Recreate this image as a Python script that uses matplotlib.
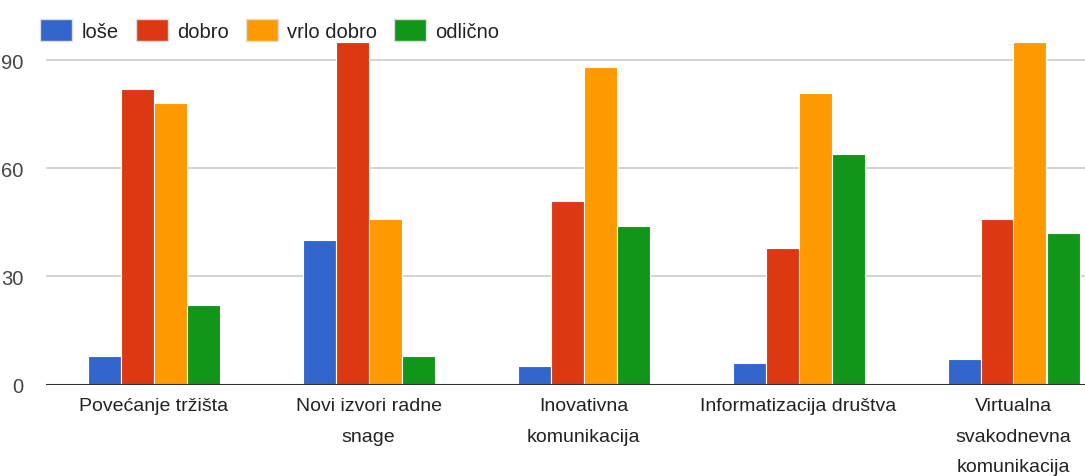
import matplotlib
matplotlib.use("Agg")
import matplotlib.pyplot as plt
from matplotlib.patches import Rectangle
import numpy as np

categories = ["Povećanje tržišta", "Novi izvori radne\nsnage", "Inovativna\nkomunikacija",
              "Informatizacija društva", "Virtualna\nsvakodnevna\nkomunikacija"]
series_names = ["loše", "dobro", "vrlo dobro", "odlično"]
lose = [8, 40, 5, 6, 7]
dobro = [82, 95, 51, 38, 46]
vrlo_dobro = [78, 46, 88, 81, 95]
odlicno = [22, 8, 44, 64, 42]
yticks = [0, 30, 60, 90]
colors = ["#3366cc", "#dc3912", "#ff9900", "#109618"]

plt.rcParams["font.family"] = ["Liberation Sans", "DejaVu Sans"]

W, H = 1085, 477
fig = plt.figure(figsize=(W / 100, H / 100), dpi=100)
left, right = 46, 1085
bottom_px, top_px = 385.5, 385.5 - 100 * 3.603
ax = fig.add_axes([left / W, 1 - bottom_px / H, (right - left) / W, (bottom_px - top_px) / H])

data = [lose, dobro, vrlo_dobro, odlicno]
x = np.arange(len(categories))
bw = 33 / 215
for i, (vals, c) in enumerate(zip(data, colors)):
    ax.bar(x + (i - 1.5) * bw, vals, width=bw, color=c, edgecolor="white", linewidth=0.8, zorder=3)

ax.set_xlim(-0.5, 4.5 - (1121 - 1085) / 215)
ax.set_ylim(0, 100)
ax.set_yticks(yticks)
ax.set_yticklabels([str(v) for v in yticks], fontsize=14.5, color="#444444")
for v in yticks[1:]:
    ax.axhline(v, color="#cccccc", linewidth=1.2, zorder=1)
ax.axhline(0, color="#333333", linewidth=1.5, zorder=4)
ax.set_xticks(x)
ax.set_xticklabels(categories, fontsize=14, color="#222222", linespacing=2.05)
ax.tick_params(axis="both", length=0)
ax.tick_params(axis="x", pad=9)
ax.tick_params(axis="y", pad=16)
for s in ax.spines.values():
    s.set_visible(False)

# legend
handles = [Rectangle((0, 0), 1, 1, facecolor=c, edgecolor="#dddddd") for c in colors]
leg = fig.legend(handles, series_names, loc="upper left", bbox_to_anchor=(32 / W, 1 - 12 / H),
                 ncol=4, frameon=False, fontsize=14.5, handlelength=1.6, handleheight=1.3,
                 handletextpad=0.45, columnspacing=0.85, labelcolor="#222222",
                 borderaxespad=0, borderpad=0.4)
leg.set_zorder(0)

fig.savefig("out.png", dpi=100)
